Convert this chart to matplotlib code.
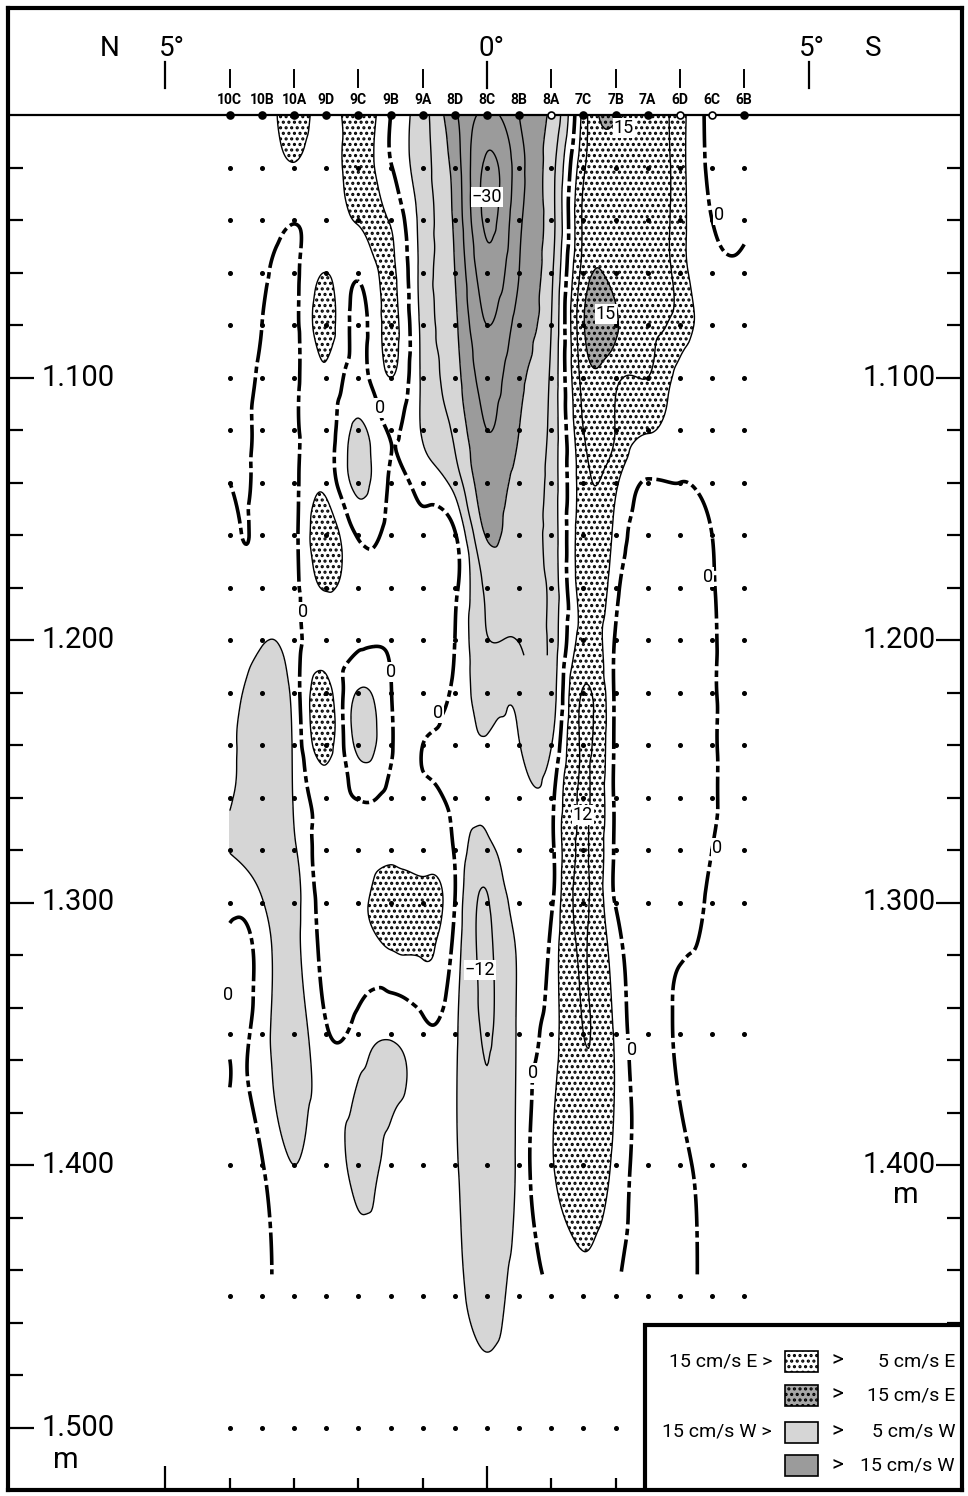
import numpy as np
import matplotlib
matplotlib.use("Agg")
import matplotlib.pyplot as plt
import matplotlib.tri as mtri
from matplotlib.patches import Rectangle

plt.rcParams['hatch.color'] = 'black'
plt.rcParams['hatch.linewidth'] = 1.5
narrow = ['Liberation Sans Narrow', 'Roboto', 'DejaVu Sans']

# stations from north (left) to south (right), latitude in degrees (N negative)
stations = ['10C', '10B', '10A', '9D', '9C', '9B', '9A', '8D', '8C',
            '8B', '8A', '7C', '7B', '7A', '6D', '6C', '6B']
lat = [-4.0, -3.5, -3.0, -2.5, -2.0, -1.5, -1.0, -0.5, 0.0,
       0.5, 1.0, 1.5, 2.0, 2.5, 3.0, 3.5, 4.0]
open_st = ['8A', '6D', '6C']
depth = [1000, 1020, 1040, 1060, 1080, 1100, 1120, 1140, 1160, 1180, 1200,
         1220, 1240, 1260, 1280, 1300, 1350, 1400, 1450, 1500]

# zonal velocity in cm/s (E positive, W negative), one list per depth
u1000 = [1.5, 2.0, 7.0, 3.0, 8.0, 0.0, -8.0, -19.0, -26.0, -20.0, -14.0, 7.0, 16.0, 13.0, 7.0, -1.5, -2.0]
u1020 = [1.5, 2.0, 4.5, 2.5, 7.0, 0.5, -8.0, -17.0, -31.0, -22.0, -12.0, 9.0, 12.0, 13.0, 7.0, -1.0, -1.5]
u1040 = [1.5, 2.0, 0.3, 2.0, 5.5, 4.5, -7.0, -16.0, -31.0, -21.0, -12.0, 11.0, 12.5, 13.0, 7.0, 0.0, -0.5]
u1060 = [1.5, 1.0, -1.0, 5.0, 1.0, 6.0, -7.0, -15.0, -28.0, -20.0, -11.0, 12.0, 12.5, 12.5, 7.5, 1.0, 0.5]
u1080 = [1.0, 0.0, -1.5, 7.0, -1.5, 6.5, -6.5, -14.0, -25.0, -18.0, -10.0, 14.5, 15.8, 11.0, 8.0, 2.0, 1.0]
u1100 = [0.5, -1.0, -1.5, 4.0, -2.0, 5.0, -6.0, -13.0, -22.0, -16.0, -9.0, 12.0, 11.0, 10.0, 3.0, 1.0, 1.0]
u1120 = [0.3, -1.5, -1.5, 3.0, -6.0, 0.5, -5.5, -11.0, -20.0, -15.0, -8.5, 10.0, 9.8, 5.5, 1.5, 1.0, 1.0]
u1140 = [0.0, -1.5, -1.5, 3.5, -6.5, 0.5, -2.0, -7.0, -18.0, -13.0, -8.0, 8.0, 6.0, -0.3, 0.0, 1.0, 1.0]
u1160 = [-1.0, -1.5, -1.5, 8.0, -0.5, 1.0, 1.0, 0.5, -15.5, -11.0, -8.0, 8.5, 3.5, -1.0, -1.0, 0.0, 0.5]
u1180 = [-1.0, -2.0, -1.5, 5.5, 1.5, 1.5, 1.0, 1.0, -11.0, -11.0, -8.5, 8.0, 1.5, -1.5, -2.0, -0.3, 0.5]
u1200 = [-1.5, -4.5, -2.0, 2.5, 1.0, 0.3, 1.0, 0.0, -9.8, -10.2, -8.5, 7.5, -0.5, -1.5, -2.0, -0.5, 0.3]
u1220 = [-3.0, -8.0, -3.0, 7.0, -5.5, -0.2, 1.0, -1.0, -7.0, -6.5, -8.0, 12.5, -1.0, -1.5, -2.0, -0.5, 0.2]
u1240 = [-4.0, -9.0, -4.0, 7.0, -6.5, -0.5, 0.0, -2.0, -4.5, -4.8, -5.2, 13.0, -1.0, -2.0, -2.0, -0.5, 0.2]
u1260 = [-4.3, -9.5, -4.5, 2.0, -0.3, 0.8, 0.5, -1.5, -3.5, -2.0, -1.5, 13.0, -1.0, -2.0, -2.0, -0.5, 0.3]
u1280 = [-5.2, -9.5, -6.0, 2.0, 2.0, 3.5, 3.0, -0.5, -7.0, -2.0, -1.5, 13.0, -0.8, -1.5, -1.5, 0.0, 0.5]
u1300 = [-1.5, -4.5, -7.0, 2.5, 3.5, 7.5, 6.5, 0.0, -12.5, -3.0, -1.0, 13.5, -0.3, -1.0, -1.0, 0.5, 1.0]
u1350 = [0.5, -2.5, -8.0, -0.5, -2.0, -4.5, -1.5, -4.0, -12.5, -4.0, 2.5, 12.0, 4.0, -1.5, 0.3, 1.0, 1.0]
u1400 = [1.5, 0.3, -5.0, -2.5, -6.5, -3.0, -1.5, -4.0, -11.0, -3.5, 4.5, 9.0, 3.5, -1.5, -0.5, 0.5, 0.5]
u1450 = [1.5, 1.0, -2.5, -2.0, -2.0, -1.5, -1.5, -3.5, -7.0, -2.5, 0.0, 3.0, 0.3, -1.0, -0.5, 0.5, 0.5]
u1500 = [0.5, 0.5, -0.5, -0.5, -0.5, -0.5, -0.5, -1.0, -1.5, -1.0, 0.0, 0.5, 0.0, -0.5, 0.0, 0.0, 0.0]

U = np.array([u1000, u1020, u1040, u1060, u1080, u1100, u1120, u1140, u1160, u1180,
              u1200, u1220, u1240, u1260, u1280, u1300, u1350, u1400, u1450, u1500])

band_levels = [-100, -15, -5, 5, 15, 100]
band_colors = ['#9b9b9b', '#d6d6d6', 'white', 'white', '#a8a8a8']
band_hatches = [None, None, None, '...', '...']


# pixel position -> data coords (layout of texts and decorations)
def px_lat(x):
    return (x - 487) / 64.3


def px_dep(y):
    return 1000 + (y - 115) / 2.625


fig = plt.figure(figsize=(9.68, 14.96), dpi=100)
ax = fig.add_axes([8 / 968, 6 / 1496, 954 / 968, 1482 / 1496])
ax.set_xlim(px_lat(8), px_lat(962))
ax.set_ylim(px_dep(1490), px_dep(8))
for s in ax.spines.values():
    s.set_linewidth(3)

# smooth interpolation of the station grid
nx, ny = len(lat), len(depth)
gi, gd = np.meshgrid(np.arange(nx), np.array(depth, float))
idx = np.arange(nx * ny).reshape(ny, nx)
tris = []
for j in range(ny - 1):
    for i in range(nx - 1):
        a, b, c, d = idx[j, i], idx[j, i + 1], idx[j + 1, i], idx[j + 1, i + 1]
        tris += [[a, b, d], [a, d, c]]
tri = mtri.Triangulation(gi.ravel(), gd.ravel() / 20.0, tris)
interp = mtri.CubicTriInterpolator(tri, U.ravel(), kind='min_E')
fi = np.linspace(0, nx - 1, 401)
fd = np.linspace(depth[0], depth[-1], 601)
FI, FD = np.meshgrid(fi, fd)
Z = interp(FI, FD / 20.0)
FL = np.interp(FI, np.arange(nx), lat)

ax.contourf(FL, FD, Z, levels=band_levels, colors=band_colors,
            hatches=band_hatches, zorder=1)
ax.contour(FL, FD, Z, levels=[-15, -5, 5, 15], colors='black',
           linewidths=1.0, linestyles='solid', zorder=2)
upper = np.ma.masked_where(FD > 1206, Z)
ax.contour(FL, FD, upper, levels=[-30, -25, -20, -10, 10], colors='black',
           linewidths=1.0, linestyles='solid', zorder=2)
lower = np.ma.masked_where(FD < 1206, Z)
ax.contour(FL, FD, lower, levels=[-12, 12], colors='black',
           linewidths=1.0, linestyles='solid', zorder=2)
zero = np.ma.masked_where(FD > 1442, Z)
ax.contour(FL, FD, zero, levels=[0], colors='black', linewidths=2.6,
           linestyles=[(0, (9, 1.2, 1.8, 1.2))], zorder=3)

# measurement points
for d in depth[1:]:
    ax.plot(lat, [d] * nx, 'o', color='black', ms=2.6, ls='none', zorder=4)
ax.axhline(depth[0], color='black', lw=1.6, zorder=4)
for s, x in zip(stations, lat):
    face = 'white' if s in open_st else 'black'
    ax.plot(x, depth[0], 'o', ms=5, mfc=face, mec='black', mew=1.2, zorder=5)
    ax.text(x, px_dep(100), s, ha='center', va='center', fontsize=10,
            fontweight='bold', family=narrow)

# top ticks and labels
for x in range(-4, 5):
    ax.plot([x, x], [px_dep(70), px_dep(87)], color='black', lw=1.4)
for x in [-5, 0, 5]:
    ax.plot([x, x], [px_dep(62), px_dep(88)], color='black', lw=1.6)
for txt, xp in [('N', 110), ('5°', 172), ('0°', 492), ('5°', 812), ('S', 873)]:
    ax.text(px_lat(xp), px_dep(48), txt, ha='center', va='center',
            fontsize=20, family=narrow)

# depth axis
ax.set_yticks(range(1100, 1501, 100))
ax.set_yticks([d for d in range(1020, 1501, 20) if d % 100], minor=True)
ax.set_xticks([-5, 0, 5])
ax.set_xticks([-4, -3, -2, -1, 1, 2, 3, 4], minor=True)
ax.tick_params(axis='y', which='both', direction='in', left=True, right=True,
               labelleft=False, width=1.6)
ax.tick_params(axis='y', which='major', length=19)
ax.tick_params(axis='y', which='minor', length=11)
ax.tick_params(axis='x', which='both', direction='in', bottom=True, top=False,
               labelbottom=False, width=1.6)
ax.tick_params(axis='x', which='major', length=17)
ax.tick_params(axis='x', which='minor', length=9)
for d in range(1100, 1501, 100):
    lab = '1.%03d' % (d - 1000)
    ax.text(px_lat(42), d, lab, ha='left', va='center', fontsize=21, family=narrow)
    if d <= 1400:
        ax.text(px_lat(936), d, lab, ha='right', va='center', fontsize=21,
                family=narrow)
ax.text(px_lat(66), px_dep(1460), 'm', ha='center', va='center', fontsize=21,
        family=narrow)
ax.text(px_lat(906), px_dep(1195), 'm', ha='center', va='center', fontsize=21,
        family=narrow)

# contour labels
labels = [('−30', 487, 197), ('15', 624, 128), ('15', 606, 314),
          ('−12', 480, 970), ('12', 583, 815),
          ('0', 303, 612), ('0', 380, 408), ('0', 391, 672), ('0', 438, 713),
          ('0', 719, 215), ('0', 708, 577), ('0', 228, 995), ('0', 717, 848),
          ('0', 533, 1073), ('0', 632, 1050)]
for txt, xp, yp in labels:
    ax.text(px_lat(xp), px_dep(yp), txt, ha='center', va='center', fontsize=13,
            family=narrow, zorder=6,
            bbox=dict(facecolor='white', edgecolor='none', pad=0.6))

# legend box
x0, x1, y0, y1 = px_lat(645), px_lat(962), px_dep(1325), px_dep(1490)
ax.add_patch(Rectangle((x0, y0), x1 - x0, y1 - y0, facecolor='white',
                       edgecolor='black', lw=3, zorder=8))
sw_w = px_lat(818) - px_lat(785)
sw_h = px_dep(1372) - px_dep(1351)
rows = [(1361, 3, '15 cm/s E >', '5 cm/s E'),
        (1395, 4, None, '15 cm/s E'),
        (1432, 1, '15 cm/s W >', '5 cm/s W'),
        (1466, 0, None, '15 cm/s W')]
for yp, b, left, right in rows:
    yc = px_dep(yp)
    ax.add_patch(Rectangle((px_lat(785), yc - sw_h / 2), sw_w, sw_h,
                           facecolor=band_colors[b], hatch=band_hatches[b],
                           edgecolor='black', lw=1.2, zorder=9))
    if left:
        ax.text(px_lat(772), yc, left, ha='right', va='center', fontsize=14,
                family=narrow, zorder=9)
    ax.text(px_lat(837), yc, '>', ha='center', va='center', fontsize=16,
            family=narrow, zorder=9)
    ax.text(px_lat(955), yc, right, ha='right', va='center', fontsize=14,
            family=narrow, zorder=9)

plt.savefig('out.png', dpi=100)
